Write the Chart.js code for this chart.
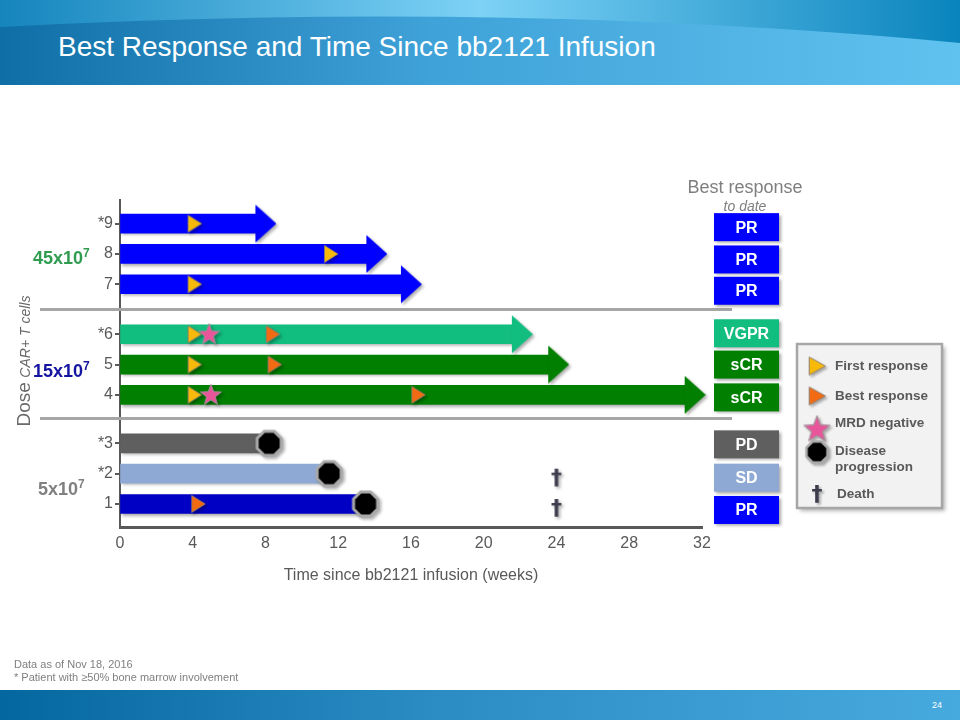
<!DOCTYPE html>
<html>
<head>
<meta charset="utf-8">
<script src="https://cdn.jsdelivr.net/npm/chart.js@4.4.1/dist/chart.umd.min.js"></script>
<style>
html,body{margin:0;padding:0;}
body{width:960px;height:720px;position:relative;overflow:hidden;background:#fff;font-family:"Liberation Sans",Arial,sans-serif;}
#hdr{position:absolute;left:0;top:0;}
#title{position:absolute;left:58px;top:33px;line-height:28px;font-size:28px;color:#fff;white-space:nowrap;}
#cv{position:absolute;left:0;top:0;}
.t{position:absolute;white-space:nowrap;}
.dose{font-weight:bold;font-size:18px;line-height:18px;}
.dose span{font-size:12px;position:relative;top:-7px;}
#ftr{position:absolute;left:0;top:690px;width:960px;height:30px;background:linear-gradient(90deg,#05679f 0%,#2b8cc4 45%,#47aade 100%);}
</style>
</head>
<body>
<svg id="hdr" width="960" height="85">
<defs>
<linearGradient id="g1" x1="0" x2="1" y1="0" y2="0">
<stop offset="0" stop-color="#0f6ea6"/><stop offset="0.45" stop-color="#3fa2d8"/><stop offset="1" stop-color="#60c2ef"/>
</linearGradient>
<linearGradient id="g2" x1="0" x2="1" y1="0" y2="0">
<stop offset="0" stop-color="#1585bd"/><stop offset="0.5" stop-color="#7dd2f6"/><stop offset="1" stop-color="#0a84bd"/>
</linearGradient>
</defs>
<rect width="960" height="85" fill="url(#g1)"/>
<path d="M0,0 H960 V43 Q500,0 0,27 Z" fill="url(#g2)"/>
</svg>
<div id="title">Best Response and Time Since bb2121 Infusion</div>
<canvas id="cv" width="960" height="720"></canvas>

<div class="t dose" style="left:33px;top:249px;color:#2f9c50;">45x10<span>7</span></div>
<div class="t dose" style="left:33px;top:362px;color:#1414a0;">15x10<span>7</span></div>
<div class="t dose" style="left:38px;top:480px;color:#808080;">5x10<span>7</span></div>

<div class="t" style="left:-56px;top:350px;width:160px;height:22px;line-height:22px;text-align:center;transform:rotate(-90deg);color:#6a6a6a;">
<span style="font-size:19px;">Dose</span> <span style="font-size:14px;font-style:italic;">CAR+ T cells</span></div>

<div class="t" style="left:645px;top:177px;width:200px;text-align:center;font-size:18px;line-height:20px;color:#7f7f7f;">Best response</div>
<div class="t" style="left:645px;top:198px;width:200px;text-align:center;font-size:14px;line-height:16px;font-style:italic;color:#7f7f7f;">to date</div>

<div class="t" style="left:14px;top:658px;font-size:11px;line-height:13px;color:#7f7f7f;">Data as of Nov 18, 2016<br>* Patient with ≥50% bone marrow involvement</div>
<div id="ftr"></div>
<div class="t" style="left:932px;top:700px;font-size:9px;line-height:10px;color:#fff;">24</div>

<script>
// ---------- data ----------
const patients = ['1', '*2', '*3', '4', '5', '*6', '7', '8', '*9'];
const followUpWeeks = [13.5, 11.5, 8.2, 31.1, 23.6, 21.6, 15.5, 13.6, 7.5];
const ongoing = [false, false, false, true, true, true, true, true, true];
const firstResponse = [null, null, null, 4.1, 4.1, 4.1, 4.1, 11.6, 4.1];
const bestResponse = [4.3, null, null, 16.4, 8.5, 8.4, null, null, null];
const mrdNegative = [null, null, null, 5.0, null, 4.9, null, null, null];
const progression = [13.5, 11.5, 8.2, null, null, null, null, null, null];
const death = [24, 24, null, null, null, null, null, null, null];
const bestResponseToDate = ['PR', 'SD', 'PD', 'sCR', 'sCR', 'VGPR', 'PR', 'PR', 'PR'];
const xTicks = [0, 4, 8, 12, 16, 20, 24, 28, 32];
const legendItems = ['First response', 'Best response', 'MRD negative', 'Disease|progression', 'Death'];

// ---------- layout / style ----------
const ROW_Y = [1, 2, 3, 4.6, 5.6, 6.6, 8.25, 9.25, 10.25];
const SEP_Y = [3.84, 7.43];
const BOX_SHIFT = [6, 4, 1, 2.5, 0, -1, 6.5, 5.5, 3.5];
const barColors = ['#0000c4', '#8eaad4', '#5f5f5f', '#007f00', '#007f00', '#12bd80', '#0000ff', '#0000ff', '#0000ff'];
const respColors = {PR: '#0000ff', SD: '#8eaad4', PD: '#5f5f5f', sCR: '#007f00', VGPR: '#12bd80'};
const FAM = '"Liberation Sans", Arial, sans-serif';
const GRAY = '#595959';
Chart.defaults.font.family = FAM;

function mk(w, h, draw) { const c = document.createElement('canvas'); c.width = w; c.height = h; draw(c.getContext('2d')); return c; }
function triImg(color) {
  return mk(16, 20, g => { g.beginPath(); g.moveTo(1.5, 1.5); g.lineTo(15, 10); g.lineTo(1.5, 18.5); g.closePath();
    g.fillStyle = color; g.fill(); g.strokeStyle = 'rgba(140,125,110,0.85)'; g.lineWidth = 1; g.stroke(); });
}
function arrowImg(color) {
  return mk(40, 40, g => { g.beginPath(); g.moveTo(19, 1); g.lineTo(40, 20); g.lineTo(19, 39); g.closePath(); g.fillStyle = color; g.fill(); });
}
const starImg = mk(24, 24, g => {
  g.beginPath();
  for (let k = 0; k < 10; k++) { const r = k % 2 ? 4.6 : 11; const a = -Math.PI / 2 + k * Math.PI / 5; g.lineTo(12 + r * Math.cos(a), 12.5 + r * Math.sin(a)); }
  g.closePath(); g.fillStyle = '#e9559a'; g.fill(); g.strokeStyle = '#a08c96'; g.lineWidth = 1; g.stroke();
});
const octImg = mk(32, 32, g => {
  g.beginPath();
  for (let k = 0; k < 8; k++) { const a = Math.PI / 8 + k * Math.PI / 4; g.lineTo(16 + 13 * Math.cos(a), 16 + 13 * Math.sin(a)); }
  g.closePath(); g.fillStyle = '#000'; g.fill(); g.strokeStyle = '#a9a9a9'; g.lineWidth = 3; g.stroke();
});
const daggerImg = mk(18, 34, g => { g.font = 'bold 22px "DejaVu Sans"'; g.fillStyle = '#3c3c4c'; g.textAlign = 'center'; g.textBaseline = 'middle'; g.fillText('\u2020', 9, 22); });
const triYellow = triImg('#f7b90a');
const triOrange = triImg('#f26b12');
const arrowImgs = barColors.map(arrowImg);

function pts(arr) { return arr.map((v, i) => v == null ? null : {x: v, y: ROW_Y[i], row: i}).filter(Boolean); }
function scatter(data, style, order) {
  return {type: 'scatter', data, pointStyle: style, pointRadius: 10, order, clip: false};
}

const shadowPlugin = {
  id: 'shadow',
  beforeDatasetsDraw(chart) { const c = chart.ctx; c.save(); c.shadowColor = 'rgba(0,0,0,0.32)'; c.shadowBlur = 3; c.shadowOffsetX = 2; c.shadowOffsetY = 2; },
  afterDatasetsDraw(chart) { chart.ctx.restore(); }
};

const extrasPlugin = {
  id: 'extras',
  afterDraw(chart) {
    const c = chart.ctx, ys = chart.scales.y, area = chart.chartArea;
    // group separators
    c.save();
    c.strokeStyle = '#a6a6a6'; c.lineWidth = 3;
    SEP_Y.forEach(v => { const y = Math.round(ys.getPixelForValue(v)) + 0.5; c.beginPath(); c.moveTo(40, y); c.lineTo(area.right + 30, y); c.stroke(); });
    // best response boxes
    c.font = 'bold 16px ' + FAM; c.textAlign = 'center'; c.textBaseline = 'middle';
    bestResponseToDate.forEach((r, i) => {
      const yc = ys.getPixelForValue(ROW_Y[i]) + BOX_SHIFT[i], x0 = area.right + 12;
      c.save(); c.shadowColor = 'rgba(0,0,0,0.35)'; c.shadowBlur = 3; c.shadowOffsetX = 2; c.shadowOffsetY = 2;
      c.fillStyle = respColors[r]; c.fillRect(x0, yc - 14, 65, 28); c.restore();
      c.fillStyle = '#fff'; c.fillText(r, x0 + 32.5, yc + 1);
    });
    // legend box
    c.save(); c.shadowColor = 'rgba(0,0,0,0.3)'; c.shadowBlur = 4; c.shadowOffsetX = 3; c.shadowOffsetY = 3;
    c.fillStyle = '#f2f2f2'; c.fillRect(797, 344, 145, 164); c.restore();
    c.strokeStyle = '#a6a6a6'; c.lineWidth = 2.5; c.strokeRect(797, 344, 145, 164);
    const icons = [triYellow, triOrange, starImg, octImg, daggerImg];
    const iconY = [366, 396, 429, 452, 490];
    const iconS = [[19, 21], [19, 21], [30, 30], [28, 28], [18, 34]];
    c.save(); c.shadowColor = 'rgba(0,0,0,0.3)'; c.shadowBlur = 2; c.shadowOffsetX = 2; c.shadowOffsetY = 2;
    icons.forEach((img, k) => c.drawImage(img, 817 - iconS[k][0] / 2, iconY[k] - iconS[k][1] / 2, iconS[k][0], iconS[k][1]));
    c.restore();
    c.font = 'bold 13.5px ' + FAM; c.textAlign = 'left'; c.fillStyle = GRAY;
    const textY = [[366], [396], [423], [451, 467], [494]];
    legendItems.forEach((t, k) => t.split('|').forEach((line, j) => c.fillText(line, k === 4 ? 837 : 835, textY[k][j])));
    c.restore();
  }
};

new Chart(document.getElementById('cv'), {
  type: 'bar',
  data: {
    datasets: [
      {type: 'bar', indexAxis: 'y', data: patients.map((p, i) => ({x: [0, followUpWeeks[i]], y: ROW_Y[i]})),
       backgroundColor: barColors, barThickness: 19, borderWidth: 0, borderSkipped: false, order: 10, clip: false},
      scatter(pts(followUpWeeks.map((v, i) => ongoing[i] ? v : null)), c => arrowImgs[c.raw ? c.raw.row : 0], 9),
      scatter(pts(firstResponse), triYellow, 8),
      scatter(pts(bestResponse), triOrange, 7),
      scatter(pts(mrdNegative), starImg, 6),
      scatter(pts(progression), octImg, 5),
      scatter(pts(death), daggerImg, 4)
    ]
  },
  options: {
    responsive: false, animation: false, events: [],
    layout: {padding: {left: 0, top: 200, right: 258, bottom: 123}},
    plugins: {legend: {display: false}, tooltip: {enabled: false}},
    scales: {
      x: {type: 'linear', min: 0, max: 32, offset: false, bounds: 'data',
          afterBuildTicks: s => { s.ticks = xTicks.map(v => ({value: v})); },
          ticks: {font: {size: 16}, color: GRAY, padding: 7, autoSkip: false, maxRotation: 0},
          grid: {display: true, drawOnChartArea: false, drawTicks: false, offset: false},
          border: {display: true, color: GRAY, width: 3},
          title: {display: true, text: 'Time since bb2121 infusion (weeks)', color: GRAY, font: {size: 16}, padding: {top: 0, bottom: 12}},
          afterFit: s => { s.height = 70; }},
      y: {type: 'linear', min: 0.24, max: 11.03, offset: false, bounds: 'data',
          afterBuildTicks: s => { s.ticks = ROW_Y.map(v => ({value: v})); },
          ticks: {font: {size: 16}, color: GRAY, padding: 2, autoSkip: false, callback: (v, i) => patients[i]},
          grid: {display: true, drawOnChartArea: false, drawTicks: true, tickLength: 5, color: GRAY, lineWidth: 2, offset: false},
          border: {display: true, color: GRAY, width: 2},
          afterFit: s => { s.width = 120; }}
    }
  },
  plugins: [shadowPlugin, extrasPlugin]
});
</script>
</body>
</html>
